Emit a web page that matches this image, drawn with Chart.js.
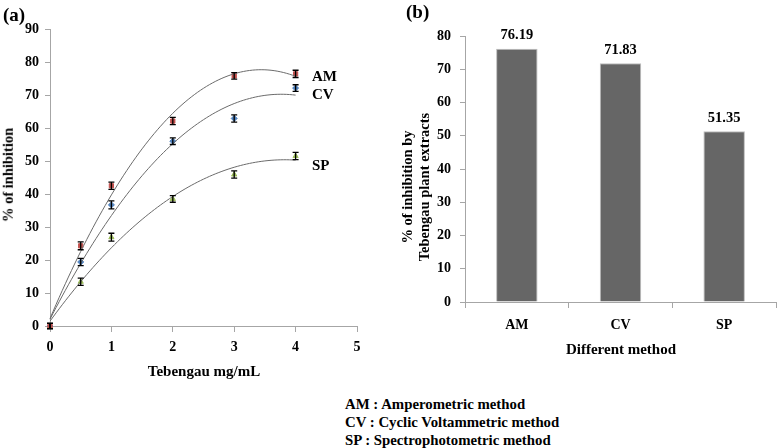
<!DOCTYPE html>
<html>
<head>
<meta charset="utf-8">
<script src="https://cdn.jsdelivr.net/npm/chart.js@4/dist/chart.umd.min.js"></script>
<style>
  body { margin: 0; background: #fff; width: 778px; height: 448px; overflow: hidden; position: relative;
         font-family: "Liberation Serif", "DejaVu Serif", serif; font-weight: bold; color: #000; }
  .box { position: absolute; }
  .txt { position: absolute; white-space: nowrap; line-height: 1; }
  .rot { position: absolute; white-space: nowrap; line-height: 1; transform: translate(-50%, -50%) rotate(-90deg); }
</style>
</head>
<body>
<div class="box" style="left:0;top:0;width:380px;height:390px"><canvas id="lineCanvas"></canvas></div>
<div class="box" style="left:400px;top:0;width:378px;height:390px"><canvas id="barCanvas"></canvas></div>

<div class="txt" style="left:3px;top:5px;font-size:19px">(a)</div>
<div class="txt" style="left:406px;top:2px;font-size:19px">(b)</div>

<div class="rot" style="left:8px;top:175px;font-size:14.5px">% of inhibition</div>
<div class="txt" style="left:204px;top:364px;font-size:15px;transform:translateX(-50%)">Tebengau mg/mL</div>

<div class="rot" style="left:407px;top:187px;font-size:14.5px">% of inhibition by</div>
<div class="rot" style="left:424px;top:187px;font-size:14.5px">Tebengau plant extracts</div>
<div class="txt" style="left:621px;top:342px;font-size:15px;transform:translateX(-50%)">Different method</div>

<div class="txt" style="left:312px;top:69px;font-size:15px">AM</div>
<div class="txt" style="left:312px;top:87px;font-size:15px">CV</div>
<div class="txt" style="left:312px;top:158px;font-size:15px">SP</div>

<div class="txt" style="left:345px;top:395px;font-size:14.8px;line-height:18px">
AM : Amperometric method<br>CV : Cyclic Voltammetric method<br>SP : Spectrophotometric method
</div>

<script>
// (a) inhibition vs concentration
const conc = [0, 0.5, 1, 2, 3, 4];
const amValues = [0, 24.3, 42.5, 62.1, 75.8, 76.4];
const cvValues = [0, 19.4, 36.7, 56.0, 62.9, 72.1];
const spValues = [0, 13.4, 26.9, 38.5, 45.9, 51.5];
const amErr = [0.8, 1.2, 1.1, 1.1, 1.0, 1.1];
const cvErr = [0.8, 1.1, 1.2, 1.0, 1.1, 1.0];
const spErr = [0.8, 1.1, 1.2, 1.0, 1.1, 1.1];

// (b) final values
const methods = ['AM', 'CV', 'SP'];
const methodValues = [76.19, 71.83, 51.35];

const xTicksA = [0, 1, 2, 3, 4, 5];

// 2nd order polynomial trendline (least squares), like the spreadsheet one
function polyFit2(xs, ys) {
  let s = [0, 0, 0, 0, 0], t = [0, 0, 0];
  for (let i = 0; i < xs.length; i++) {
    let p = 1;
    for (let k = 0; k < 5; k++) { s[k] += p; if (k < 3) t[k] += p * ys[i]; p *= xs[i]; }
  }
  const m = [[s[0], s[1], s[2], t[0]], [s[1], s[2], s[3], t[1]], [s[2], s[3], s[4], t[2]]];
  for (let c = 0; c < 3; c++) {
    for (let r = c + 1; r < 3; r++) {
      const f = m[r][c] / m[c][c];
      for (let k = c; k < 4; k++) m[r][k] -= f * m[c][k];
    }
  }
  const b = [0, 0, 0];
  for (let r = 2; r >= 0; r--) {
    let v = m[r][3];
    for (let k = r + 1; k < 3; k++) v -= m[r][k] * b[k];
    b[r] = v / m[r][r];
  }
  return b;
}
function trend(ys) {
  const b = polyFit2(conc, ys);
  const pts = [];
  const x0 = conc[0], x1 = conc[conc.length - 1];
  for (let i = 0; i <= 80; i++) {
    const x = x0 + (x1 - x0) * i / 80;
    pts.push({ x: x, y: b[0] + b[1] * x + b[2] * x * x });
  }
  return pts;
}
const toPts = ys => conc.map((x, i) => ({ x: x, y: ys[i] }));

const errorBars = {
  id: 'errorBars',
  afterDatasetsDraw(chart) {
    const ctx = chart.ctx, xs = chart.scales.x, ys = chart.scales.y;
    ctx.save();
    ctx.strokeStyle = '#000';
    ctx.lineWidth = 1.3;
    chart.data.datasets.forEach(ds => {
      if (!ds.errors) return;
      ds.data.forEach((p, i) => {
        const px = xs.getPixelForValue(p.x);
        const top = ys.getPixelForValue(p.y + ds.errors[i]);
        const bot = ys.getPixelForValue(p.y - ds.errors[i]);
        ctx.beginPath();
        ctx.moveTo(px, top); ctx.lineTo(px, bot);
        ctx.moveTo(px - 3, top); ctx.lineTo(px + 3, top);
        ctx.moveTo(px - 3, bot); ctx.lineTo(px + 3, bot);
        ctx.stroke();
      });
    });
    ctx.restore();
  }
};

const tickFont = { family: 'Liberation Serif', size: 14, weight: 'bold' };

const pointSet = (ys, errs, color, style) => ({
  type: 'scatter', data: toPts(ys), errors: errs, showLine: false,
  pointStyle: style, pointRadius: 3, backgroundColor: color, borderColor: color, borderWidth: 1
});
const trendSet = ys => ({
  type: 'line', data: trend(ys), borderColor: '#6b6b6b', borderWidth: 1,
  pointRadius: 0, tension: 0, fill: false
});

new Chart(document.getElementById('lineCanvas'), {
  type: 'scatter',
  data: {
    datasets: [
      trendSet(amValues), trendSet(cvValues), trendSet(spValues),
      pointSet(amValues, amErr, '#c0504d', 'rect'),
      pointSet(cvValues, cvErr, '#4f81bd', 'rectRot'),
      pointSet(spValues, spErr, '#9bbb59', 'triangle')
    ]
  },
  options: {
    responsive: true,
    maintainAspectRatio: false,
    animation: false,
    clip: false,
    layout: { padding: { top: 29, right: 23, left: 0, bottom: 0 } },
    plugins: { legend: { display: false }, tooltip: { enabled: false } },
    scales: {
      x: {
        type: 'linear', min: 0, max: 5,
        afterBuildTicks: s => { s.ticks = xTicksA.map(v => ({ value: v })); },
        afterFit: s => { s.height = 64; },
        grid: { drawOnChartArea: false, drawTicks: true, tickLength: 6, color: '#a6a6a6' },
        border: { color: '#a6a6a6' },
        ticks: { font: tickFont, color: '#000', padding: 7 }
      },
      y: {
        min: 0, max: 90,
        afterFit: s => { s.width = 50; },
        grid: { drawOnChartArea: false, drawTicks: true, tickLength: 5, color: '#a6a6a6' },
        border: { color: '#a6a6a6' },
        ticks: { stepSize: 10, font: tickFont, color: '#000', padding: 6 }
      }
    }
  },
  plugins: [errorBars]
});

const barLabels = {
  id: 'barLabels',
  afterDatasetsDraw(chart) {
    const ctx = chart.ctx;
    ctx.save();
    ctx.font = 'bold 14.5px "Liberation Serif"';
    ctx.fillStyle = '#000';
    ctx.textAlign = 'center';
    ctx.textBaseline = 'bottom';
    chart.getDatasetMeta(0).data.forEach((bar, i) => {
      ctx.fillText(methodValues[i].toFixed(2), bar.x, bar.y - 6);
    });
    ctx.restore();
  }
};

new Chart(document.getElementById('barCanvas'), {
  type: 'bar',
  data: {
    labels: methods,
    datasets: [{
      data: methodValues,
      backgroundColor: '#666666',
      borderColor: '#bdbdbd',
      borderWidth: 1,
      categoryPercentage: 1,
      barPercentage: 0.4
    }]
  },
  options: {
    responsive: true,
    maintainAspectRatio: false,
    animation: false,
    layout: { padding: { top: 36, right: 2, left: 0, bottom: 0 } },
    plugins: { legend: { display: false }, tooltip: { enabled: false } },
    scales: {
      x: {
        afterFit: s => { s.height = 88; },
        grid: { drawOnChartArea: false, drawTicks: true, tickLength: 6, color: '#a6a6a6', offset: true },
        border: { color: '#a6a6a6' },
        ticks: { font: tickFont, color: '#000', padding: 9 }
      },
      y: {
        min: 0, max: 80,
        afterFit: s => { s.width = 65; },
        grid: { drawOnChartArea: false, drawTicks: true, tickLength: 5, color: '#a6a6a6' },
        border: { color: '#a6a6a6' },
        ticks: { stepSize: 10, font: tickFont, color: '#000', padding: 9 }
      }
    }
  },
  plugins: [barLabels]
});
</script>
</body>
</html>
